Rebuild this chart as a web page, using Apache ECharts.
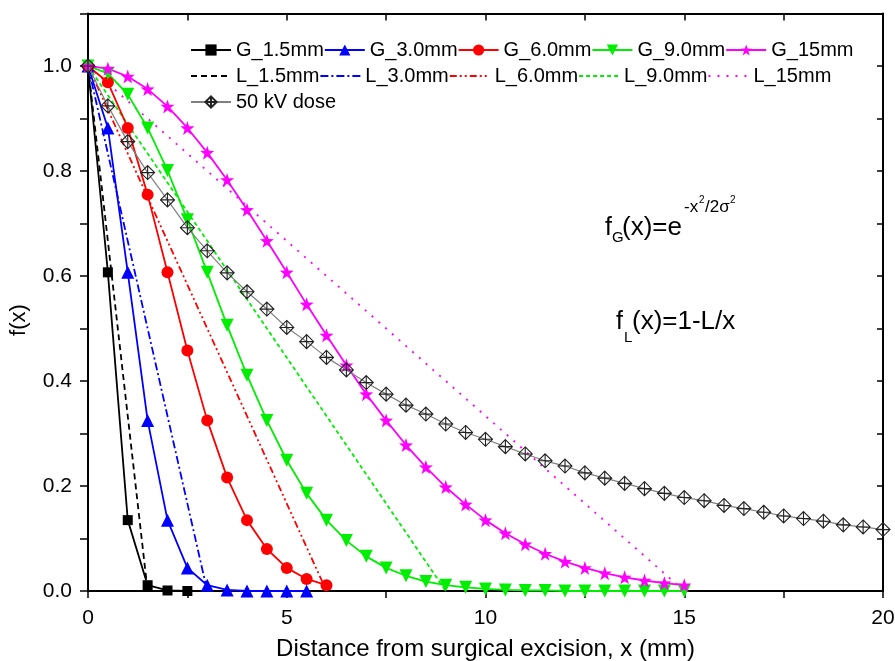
<!DOCTYPE html>
<html>
<head>
<meta charset="utf-8">
<script src="https://cdn.jsdelivr.net/npm/echarts@6/dist/echarts.min.js"></script>
<style>
  html, body { margin: 0; padding: 0; background: #fff; }
  #main { width: 895px; height: 661px; }
</style>
</head>
<body>
<div id="main"></div>
<script>
// x positions of the sampled points (mm)
const xs = [0, 0.5, 1, 1.5, 2, 2.5, 3, 3.5, 4, 4.5, 5, 5.5, 6, 6.5, 7, 7.5, 8, 8.5, 9, 9.5,
  10, 10.5, 11, 11.5, 12, 12.5, 13, 13.5, 14, 14.5, 15, 15.5, 16, 16.5, 17, 17.5, 18, 18.5, 19, 19.5, 20];

// gaussian curves
const g1_5 = [1, 0.607, 0.135, 0.011, 0.001, 0];
const g3_0 = [1, 0.882, 0.607, 0.325, 0.135, 0.044, 0.011, 0.002, 0, 0, 0, 0];
const g6_0 = [1, 0.969, 0.882, 0.755, 0.607, 0.458, 0.325, 0.216, 0.135, 0.080, 0.044, 0.023, 0.011];
const g9_0 = [1, 0.986, 0.946, 0.882, 0.801, 0.707, 0.607, 0.506, 0.411, 0.325, 0.249, 0.186, 0.135,
  0.096, 0.066, 0.044, 0.029, 0.018, 0.011, 0.007, 0.004, 0.002, 0.001, 0.001, 0, 0, 0, 0, 0, 0, 0];
const g15 = [1, 0.995, 0.980, 0.956, 0.923, 0.882, 0.835, 0.783, 0.726, 0.667, 0.607, 0.546, 0.487,
  0.430, 0.375, 0.325, 0.278, 0.236, 0.198, 0.165, 0.135, 0.110, 0.089, 0.071, 0.056, 0.044, 0.034,
  0.026, 0.020, 0.015, 0.011];

// linear fall-off lines [x, f]
const l1_5 = [[0, 1], [1.5, 0]];
const l3_0 = [[0, 1], [3, 0]];
const l6_0 = [[0, 1], [6, 0]];
const l9_0 = [[0, 1], [9, 0]];
const l15 = [[0, 1], [15, 0]];

// measured 50 kV dose
const dose50 = [1, 0.924, 0.856, 0.797, 0.745, 0.692, 0.648, 0.606, 0.570, 0.537, 0.502, 0.475, 0.445,
  0.421, 0.397, 0.375, 0.354, 0.337, 0.318, 0.302, 0.289, 0.275, 0.261, 0.248, 0.238, 0.225, 0.215,
  0.205, 0.195, 0.186, 0.178, 0.172, 0.163, 0.157, 0.150, 0.143, 0.138, 0.133, 0.126, 0.122, 0.117];

const gNames = ['G_1.5mm', 'G_3.0mm', 'G_6.0mm', 'G_9.0mm', 'G_15mm'];
const lNames = ['L_1.5mm', 'L_3.0mm', 'L_6.0mm', 'L_9.0mm', 'L_15mm'];
const doseName = '50 kV dose';

function pairs(vals) {
  return vals.map(function (v, i) { return [xs[i], v]; });
}

const FONT = 'Liberation Sans, Arial, sans-serif';
const star = 'path://M0,-10 L2.35,-3.24 L9.51,-3.09 L3.8,1.24 L5.88,8.09 L0,4 L-5.88,8.09 L-3.8,1.24 L-9.51,-3.09 L-2.35,-3.24 Z';
const diamondPlus = 'path://M0,-10 L10,0 L0,10 L-10,0 Z M0,-10 L0,10 M-10,0 L10,0';

function gSeries(name, vals, color, symbol, size, rotate) {
  return {
    name: name, type: 'line', data: pairs(vals),
    symbol: symbol, symbolSize: size, symbolRotate: rotate || 0,
    lineStyle: { color: color, width: 1.8 },
    itemStyle: { color: color },
    z: 3
  };
}
function lSeries(name, pts, color, dash) {
  return {
    name: name, type: 'line', data: pts, symbol: 'none',
    lineStyle: { color: color, width: 1.8, type: dash },
    itemStyle: { color: color },
    z: 2
  };
}

const legendBase = {
  left: 190, orient: 'horizontal', itemGap: 0, padding: 0,
  itemWidth: 40, itemHeight: 14,
  textStyle: { fontSize: 20, fontFamily: FONT, color: '#000', width: 88 }
};

// small text pieces for the two formulas
function txt(str, x, y, size) {
  return {
    type: 'text', x: x, y: y,
    style: { text: str, fontSize: size, fontFamily: FONT, fill: '#000', verticalAlign: 'middle' }
  };
}

const chart = echarts.init(document.getElementById('main'));
const option = {
  animation: false,
  backgroundColor: '#fff',
  grid: { left: 88, right: 12, top: 13.5, bottom: 70, containLabel: false, outerBoundsMode: 'none' },
  legend: [
    Object.assign({}, legendBase, { top: 40, data: gNames }),
    Object.assign({}, legendBase, {
      top: 66,
      data: lNames.map(function (n) { return { name: n, itemStyle: { opacity: 0 } }; })
    }),
    Object.assign({}, legendBase, { top: 92, data: [doseName] })
  ],
  xAxis: [{
    type: 'value', min: 0, max: 20, interval: 2.5, position: 'bottom',
    name: 'Distance from surgical excision, x (mm)',
    nameLocation: 'middle', nameGap: 46,
    nameTextStyle: { fontSize: 24, fontFamily: FONT, color: '#000' },
    axisLine: { onZero: false, lineStyle: { color: '#000', width: 2 } },
    axisTick: { inside: false, length: 7, lineStyle: { color: '#000', width: 1.5 } },
    axisLabel: {
      margin: 17, fontSize: 21, fontFamily: FONT, color: '#000',
      formatter: function (v) { return v % 5 === 0 ? String(v) : ''; }
    },
    splitLine: { show: false }
  }, {
    type: 'value', min: 0, max: 20, interval: 2.5, position: 'top',
    axisLine: { onZero: false, lineStyle: { color: '#000', width: 2 } },
    axisTick: { inside: true, length: 7, lineStyle: { color: '#000', width: 1.5 } },
    axisLabel: { show: false },
    splitLine: { show: false }
  }],
  yAxis: [{
    type: 'value', min: 0, max: 1.1, interval: 0.1, position: 'left',
    axisLine: { show: true, onZero: false, lineStyle: { color: '#000', width: 2 } },
    axisTick: { show: true, inside: false, length: 8, lineStyle: { color: '#000', width: 1.5 } },
    axisLabel: {
      margin: 16, fontSize: 21, fontFamily: FONT, color: '#000',
      formatter: function (v) {
        const k = Math.round(v * 10);
        return (k % 2 === 0 && k <= 10) ? (k / 10).toFixed(1) : '';
      }
    },
    splitLine: { show: false }
  }, {
    type: 'value', min: 0, max: 1.1, interval: 0.1, position: 'right',
    axisLine: { show: true, onZero: false, lineStyle: { color: '#000', width: 2 } },
    axisTick: { show: true, inside: true, length: 6, lineStyle: { color: '#000', width: 1.5 } },
    axisLabel: { show: false },
    splitLine: { show: false }
  }],
  graphic: [
    {
      type: 'text', x: 19, y: 320, rotation: Math.PI / 2,
      style: { text: 'f(x)', fontSize: 22, fontFamily: FONT, fill: '#000', align: 'center', verticalAlign: 'middle' }
    },
    txt('f', 605, 228, 25),
    txt('G', 612, 238, 15),
    txt('(x)=e', 622, 228, 26),
    txt('-x', 684, 207, 17),
    txt('2', 699, 200, 10),
    txt('/2σ', 705, 207, 17),
    txt('2', 730, 200, 10),
    txt('f', 616, 322, 25),
    txt('L', 624, 338, 15),
    txt('(x)=1-L/x', 632, 322, 26)
  ],
  series: [
    gSeries(gNames[0], g1_5, '#000000', 'rect', 10),
    gSeries(gNames[1], g3_0, '#0000ff', 'triangle', 13),
    gSeries(gNames[2], g6_0, '#ff0000', 'circle', 12),
    gSeries(gNames[3], g9_0, '#00ee00', 'triangle', 13, 180),
    gSeries(gNames[4], g15, '#ff00ff', star, 14),
    lSeries(lNames[0], l1_5, '#000000', [6, 4]),
    lSeries(lNames[1], l3_0, '#0000ff', [8, 3, 2, 3]),
    lSeries(lNames[2], l6_0, '#ff0000', [7, 3, 2, 3, 2, 3]),
    lSeries(lNames[3], l9_0, '#00ee00', [4, 3]),
    lSeries(lNames[4], l15, '#ff00ff', [2, 7]),
    {
      name: doseName, type: 'line', data: pairs(dose50),
      symbol: diamondPlus, symbolSize: 14,
      lineStyle: { color: '#808080', width: 1.2 },
      itemStyle: { color: 'rgba(255,255,255,0)', borderColor: '#222', borderWidth: 1.1 },
      z: 4
    }
  ]
};
chart.setOption(option);
</script>
</body>
</html>
